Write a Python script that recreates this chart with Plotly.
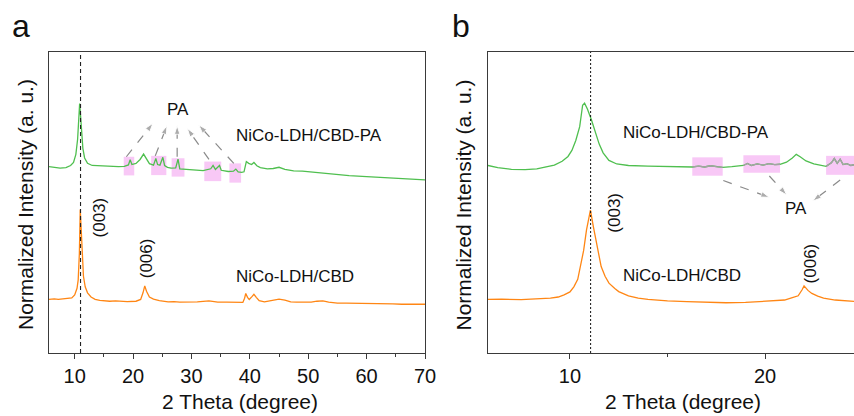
import plotly.graph_objects as go

# ---------------- data ----------------
# Panel a: wide scan 2-theta, normalized + offset intensity
a_cbd_x = [5.6, 6.5, 7.2, 8.0, 8.8, 9.5, 10.0, 10.4, 10.6, 10.8, 10.95, 11.1, 11.3, 11.5, 11.8, 12.2, 12.8, 13.5,
           14.3, 15.0, 16.0, 17.0, 18.0, 19.0, 20.5, 21.3, 21.7, 22.0, 22.3, 22.8, 23.5, 24.5, 26.0, 27.0, 28.0,
           29.5, 31.0, 33.0, 34.5, 36.0, 37.5, 38.8, 39.1, 39.3, 39.6, 39.9, 40.4, 40.7, 41.1, 41.6, 42.5, 43.5,
           45.0, 46.0, 47.0, 48.0, 49.0, 50.5, 51.5, 52.5, 53.5, 55.0, 56.5, 58.0, 60.0, 61.5, 63.0, 64.5, 66.0,
           68.0, 70.0]
a_cbd_y = [17.8, 18.0, 17.8, 18.0, 18.1, 18.3, 19.3, 21.5, 24.3, 33.0, 47.7, 40.0, 30.0, 25.5, 22.0, 20.0, 18.6, 17.8,
           17.5, 17.3, 17.2, 17.3, 17.1, 17.1, 17.2, 17.8, 20.0, 22.3, 20.5, 18.6, 17.9, 17.4, 17.0, 17.1, 16.9,
           16.9, 17.0, 17.3, 16.9, 16.9, 16.8, 16.8, 18.2, 19.8, 18.5, 17.8, 18.8, 19.5, 18.5, 17.4, 17.0, 17.3,
           17.9, 17.6, 17.0, 16.9, 16.8, 16.9, 17.2, 17.3, 16.9, 16.6, 16.6, 16.5, 16.4, 16.4, 16.3, 16.3, 16.2,
           16.2, 16.2]

a_pa_x = [5.6, 6.5, 7.5, 8.5, 9.3, 9.8, 10.2, 10.5, 10.7, 10.85, 11.0, 11.2, 11.4, 11.7, 12.2, 13.0, 14.5, 16.0,
          17.5, 18.5, 19.2, 19.5, 19.8, 20.5, 21.2, 21.8, 22.3, 22.8, 23.5, 23.9, 24.2, 24.6, 25.1, 25.4, 25.9,
          26.5, 27.3, 27.7, 28.0, 29.0, 30.0, 31.0, 32.0, 33.3, 33.7, 34.1, 34.5, 34.8, 35.1, 35.7, 36.3, 37.2,
          37.6, 38.0, 38.6, 39.0, 39.2, 39.4, 39.8, 40.3, 40.7, 41.2, 41.8, 43.0, 44.0, 45.0, 46.0, 47.5, 49.0,
          51.0, 53.0, 55.0, 57.0, 60.0, 62.5, 65.0, 67.5, 70.0]
a_pa_y = [61.9, 61.6, 61.4, 61.6, 62.3, 63.3, 66.0, 71.0, 76.0, 82.9, 79.0, 73.0, 68.0, 64.8, 63.0, 62.3, 62.1, 62.0,
          61.9, 62.0, 62.5, 64.2, 62.6, 63.0, 64.3, 66.1, 64.5, 62.9, 62.4, 64.6, 62.6, 62.4, 65.0, 62.3, 61.7,
          61.4, 61.5, 64.4, 61.2, 61.0, 60.8, 60.7, 60.6, 61.2, 62.3, 61.0, 61.6, 62.3, 60.7, 60.5, 60.3, 60.4,
          61.1, 60.2, 60.0, 60.2, 62.5, 63.6, 63.0, 62.6, 63.3, 62.2, 61.6, 61.2, 61.3, 61.7, 61.0, 60.5, 60.4,
          60.0, 59.6, 59.2, 58.9, 58.6, 58.3, 58.0, 57.8, 57.5]

# Panel b: low-angle scan
b_cbd_x = [5.8, 6.5, 7.5, 8.5, 9.0, 9.4, 9.7, 10.0, 10.2, 10.4, 10.55, 10.7, 10.85, 11.0, 11.05, 11.2, 11.3, 11.45,
           11.6, 11.8, 12.0, 12.3, 12.5, 13.0, 13.5, 14.0, 15.0, 16.0, 17.0, 18.0, 19.0, 20.0, 20.6, 21.0, 21.4,
           21.7, 21.9, 22.0, 22.2, 22.4, 22.7, 23.0, 23.6, 24.2, 24.6]
b_cbd_y = [17.8, 17.9, 17.7, 17.9, 18.2, 18.6, 19.3, 20.3, 22.0, 24.5, 28.7, 34.0, 40.9, 47.0, 47.5, 42.0, 38.7, 33.0,
           28.7, 25.5, 23.2, 21.4, 20.4, 19.0, 18.2, 17.8, 17.3, 17.1, 16.9, 16.7, 16.8, 17.1, 17.3, 17.6, 18.4,
           19.0, 21.0, 22.3, 20.8, 19.8, 18.9, 18.2, 17.6, 17.2, 17.1]

b_pa_x = [5.8, 6.3, 7.0, 7.7, 8.3, 8.8, 9.2, 9.6, 9.9, 10.1, 10.3, 10.5, 10.65, 10.75, 10.9, 11.1, 11.3, 11.5, 11.7,
          12.0, 12.4, 13.0, 14.0, 15.0, 16.27, 16.6, 16.9, 17.2, 17.5, 17.83, 18.3, 18.89, 19.1, 19.3, 19.6, 19.9,
          20.2, 20.5, 20.77, 21.1, 21.4, 21.6, 21.8, 22.1, 22.5, 23.13, 23.4, 23.55, 23.7, 23.85, 24.0, 24.2, 24.4,
          24.6]
b_pa_y = [62.3, 61.6, 61.0, 60.9, 61.2, 61.8, 62.4, 63.7, 65.3, 67.3, 70.6, 75.2, 82.3, 83.0, 81.0, 77.5, 73.0, 69.4,
          66.5, 64.0, 62.8, 62.3, 62.1, 62.0, 61.8, 62.1, 61.8, 62.2, 61.9, 61.7, 61.9, 62.3, 63.0, 62.3, 62.8, 62.4,
          62.9, 62.6, 62.7, 63.4, 64.8, 66.0, 65.2, 63.8, 62.8, 62.0, 63.2, 64.6, 63.0, 64.4, 62.6, 62.9, 62.3,
          62.6]

# (003) reference positions
a_ref_003 = 11.0
b_ref_003 = 11.06

# PA highlight regions: (x0, x1, y0, y1)
a_pa_boxes = [(18.4, 20.2, 59.0, 65.2), (23.1, 25.7, 59.1, 65.5), (26.6, 28.8, 58.6, 64.7),
              (32.2, 35.1, 57.1, 63.6), (36.5, 38.5, 56.6, 63.0)]
b_pa_boxes = [(16.27, 17.83, 58.9, 65.0), (18.89, 20.77, 59.9, 65.7), (23.13, 24.7, 59.2, 65.5)]

# arrows (x0, y0) -> (x1, y1)
a_arrows = [(18.85, 65.2, 23.4, 76.3), (23.8, 65.5, 25.8, 75.5), (27.55, 65.2, 27.55, 75.5),
            (33.0, 64.3, 29.3, 74.6), (37.25, 63.0, 31.25, 75.75)]
b_arrows = [(17.86, 57.3, 20.22, 51.7), (20.22, 58.8, 21.11, 52.5), (23.85, 57.5, 22.45, 50.5)]

GREEN = "#4fbf4f"
ORANGE = "#ff8614"
GRAY = "#8a8a8a"
PINK = "#f8c8f6"
FONT = "Liberation Sans, Arial, sans-serif"

fig = go.Figure()

# curves
fig.add_trace(go.Scatter(x=a_pa_x, y=a_pa_y, mode="lines", line=dict(color=GREEN, width=1.3),
                         name="NiCo-LDH/CBD-PA", xaxis="x", yaxis="y"))
fig.add_trace(go.Scatter(x=a_cbd_x, y=a_cbd_y, mode="lines", line=dict(color=ORANGE, width=1.3),
                         name="NiCo-LDH/CBD", xaxis="x", yaxis="y"))
fig.add_trace(go.Scatter(x=b_pa_x, y=b_pa_y, mode="lines", line=dict(color=GREEN, width=1.3),
                         name="NiCo-LDH/CBD-PA", xaxis="x2", yaxis="y2"))
fig.add_trace(go.Scatter(x=b_cbd_x, y=b_cbd_y, mode="lines", line=dict(color=ORANGE, width=1.3),
                         name="NiCo-LDH/CBD", xaxis="x2", yaxis="y2"))

# gray segments inside the PA boxes in panel b
for (x0, x1, y0, y1) in b_pa_boxes:
    xs = [x for x in b_pa_x if x0 <= x <= x1]
    ys = [y for x, y in zip(b_pa_x, b_pa_y) if x0 <= x <= x1]
    fig.add_trace(go.Scatter(x=xs, y=ys, mode="lines", line=dict(color="#a3a3a3", width=1.3),
                             xaxis="x2", yaxis="y2", showlegend=False))

# arrows
def add_arrows(arrows, xa, ya):
    for (x0, y0, x1, y1) in arrows:
        fig.add_trace(go.Scatter(x=[x0, x1], y=[y0, y1], mode="lines+markers",
                                 line=dict(color=GRAY, width=1.2, dash="dash"),
                                 marker=dict(symbol="arrow", size=[0, 9], color=GRAY, angleref="previous"),
                                 xaxis=xa, yaxis=ya, showlegend=False))

add_arrows(a_arrows, "x", "y")
add_arrows(b_arrows, "x2", "y2")

shapes = []
for (x0, x1, y0, y1) in a_pa_boxes:
    shapes.append(dict(type="rect", xref="x", yref="y", x0=x0, x1=x1, y0=y0, y1=y1,
                       fillcolor=PINK, line=dict(width=0), layer="below"))
for (x0, x1, y0, y1) in b_pa_boxes:
    shapes.append(dict(type="rect", xref="x2", yref="y2", x0=x0, x1=x1, y0=y0, y1=y1,
                       fillcolor=PINK, line=dict(width=0), layer="below"))
shapes.append(dict(type="line", xref="x", yref="y domain", x0=a_ref_003, x1=a_ref_003, y0=0, y1=1,
                   line=dict(color="#222222", width=1.1, dash="4px,3px")))
shapes.append(dict(type="line", xref="x2", yref="y2 domain", x0=b_ref_003, x1=b_ref_003, y0=0, y1=1,
                   line=dict(color="#111111", width=1.0, dash="2px,2px")))

ann = []
def txt(text, x, y, xref, yref, size=17, angle=0):
    ann.append(dict(text=text, x=x, y=y, xref=xref, yref=yref, showarrow=False, textangle=angle,
                    font=dict(size=size, color="#111111", family=FONT), xanchor="center", yanchor="middle"))

txt("NiCo-LDH/CBD-PA", 50.1, 72.4, "x", "y")
txt("NiCo-LDH/CBD", 47.7, 25.3, "x", "y")
txt("PA", 27.75, 80.9, "x", "y")
txt("(003)", 14.27, 44.9, "x", "y", angle=-90)
txt("(006)", 22.23, 31.5, "x", "y", angle=-90)

txt("NiCo-LDH/CBD-PA", 16.48, 73.2, "x2", "y2")
txt("NiCo-LDH/CBD", 15.74, 25.6, "x2", "y2")
txt("PA", 21.6, 48.1, "x2", "y2")
txt("(003)", 12.27, 46.7, "x2", "y2", angle=-90)
txt("(006)", 22.31, 29.8, "x2", "y2", angle=-90)

# titles & panel letters (paper coords)
H, W = 416.0, 854.0
txt("a", 21 / W, 1 - 26 / H, "paper", "paper", size=32)
txt("b", 461 / W, 1 - 26 / H, "paper", "paper", size=32)
txt("2 Theta (degree)", 240 / W, 1 - 401.7 / H, "paper", "paper", size=21)
txt("2 Theta (degree)", 683 / W, 1 - 401.7 / H, "paper", "paper", size=21)
txt("Normalized Intensity (a. u.)", 25 / W, 1 - 205 / H, "paper", "paper", size=21, angle=-90)
txt("Normalized Intensity (a. u.)", 462.5 / W, 1 - 205 / H, "paper", "paper", size=21, angle=-90)

xcommon = dict(showline=True, linecolor="#3a3a3a", linewidth=1.3, mirror=True, ticks="outside", ticklen=5,
               tickwidth=1.2, tickcolor="#3a3a3a", showgrid=False, zeroline=False, dtick=10, tick0=0,
               automargin=False,
               tickfont=dict(size=20, color="#111111", family=FONT),
               minor=dict(dtick=5, tick0=0, ticks="outside", ticklen=3, tickwidth=1.2, tickcolor="#3a3a3a",
                          showgrid=False))
ycommon = dict(showline=True, linecolor="#3a3a3a", linewidth=1.3, ticks="", showticklabels=False,
               automargin=False,
               showgrid=False, zeroline=False, range=[0, 100], domain=[1 - 353 / H, 1 - 52 / H])

fig.update_layout(
    template="none",
    width=854, height=416, margin=dict(l=0, r=0, t=0, b=0, pad=0), autosize=False,
    paper_bgcolor="white", plot_bgcolor="white", showlegend=False,
    font=dict(family=FONT, color="#111111"),
    xaxis=dict(xcommon, domain=[49 / W, 425 / W], range=[5.6, 70], anchor="y"),
    yaxis=dict(ycommon, mirror=True, anchor="x"),
    xaxis2=dict(xcommon, domain=[488 / W, 1.0], range=[5.8, 24.56], anchor="y2"),
    yaxis2=dict(ycommon, mirror=False, anchor="x2"),
    shapes=shapes, annotations=ann,
)

fig.write_html("out.html", post_script="document.body.style.margin='0';document.body.style.overflow='hidden';")
